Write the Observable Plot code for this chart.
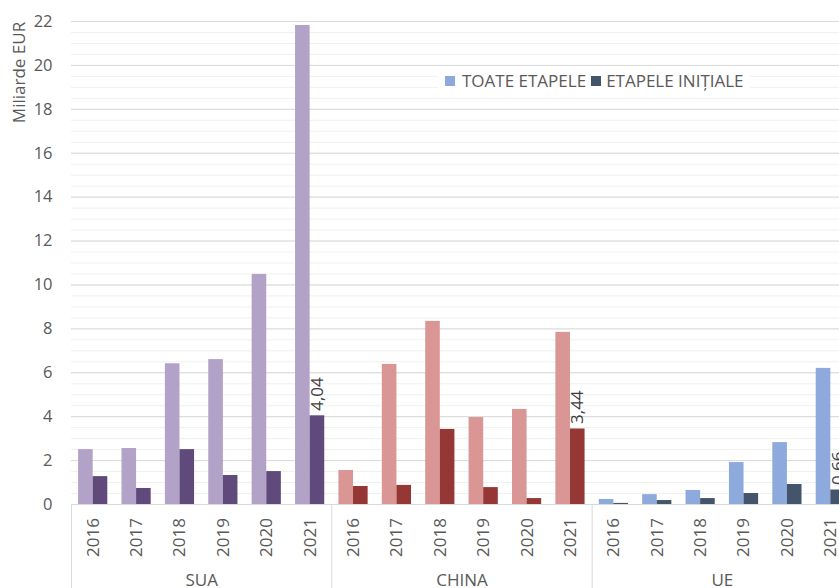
<!DOCTYPE html>
<html>
<head>
<meta charset="utf-8">
<script src="https://cdn.jsdelivr.net/npm/d3@7"></script>
<script src="https://cdn.jsdelivr.net/npm/@observablehq/plot@0.6"></script>
<style>
  body { margin: 0; background: #fff; }
  #wrap { position: relative; width: 839px; height: 588px; overflow: hidden; font-family: "Open Sans", sans-serif; }
  #legend { position: absolute; left: 438px; top: 67px; width: 312px; height: 27px; background: #fff;
            display: flex; align-items: center; font-size: 17px; color: #595959; white-space: nowrap; }
  #legend .sw { display: inline-block; width: 10px; height: 10px; margin: 0 7px 0 7px; }
  #legend .sw.first { margin-left: 7px; }
  #legend .sw.second { margin-left: 5px; margin-right: 5px; }
</style>
</head>
<body>
<div id="wrap"><div id="legend"></div></div>
<script>
const regions = ["SUA", "CHINA", "UE"];
const years = ["2016", "2017", "2018", "2019", "2020", "2021"];
const seriesNames = ["TOATE ETAPELE", "ETAPELE INIȚIALE"];

const totalSUA   = [2.5, 2.55, 6.41, 6.6, 10.48, 21.82];
const initialSUA = [1.27, 0.73, 2.5, 1.32, 1.5, 4.04];
const totalCHINA   = [1.55, 6.38, 8.34, 3.96, 4.33, 7.84];
const initialCHINA = [0.82, 0.87, 3.42, 0.77, 0.27, 3.44];
const totalUE   = [0.23, 0.45, 0.64, 1.91, 2.82, 6.2];
const initialUE = [0.05, 0.18, 0.27, 0.5, 0.91, 0.66];

const lightColors = {SUA: "#b3a2c7", CHINA: "#d99694", UE: "#8eaadc"};
const darkColors  = {SUA: "#604a7b", CHINA: "#953735", UE: "#44546a"};

const totals = {SUA: totalSUA, CHINA: totalCHINA, UE: totalUE};
const initials = {SUA: initialSUA, CHINA: initialCHINA, UE: initialUE};

const rows = [];
for (const r of regions) years.forEach((y, i) => rows.push({region: r, year: y, key: r + "|" + y, total: totals[r][i], initial: initials[r][i]}));
const keys = rows.map(d => d.key);
const labelRows = rows.filter(d => d.year === "2021");

const xRange = [71, 852];
const band = (xRange[1] - xRange[0]) / keys.length;
const barW = 14.6, outer = (band - 2 * barW) / 2;
const fmt = v => v.toFixed(2).replace(".", ",");

const font = "Open Sans, sans-serif";
const chart = Plot.plot({
  width: 839, height: 588,
  marginTop: 21, marginBottom: 84, marginLeft: 71, marginRight: 0,
  style: {fontFamily: font, fontSize: "16px", background: "#fff", overflow: "hidden"},
  x: {type: "band", domain: keys, range: xRange, padding: 0, round: false},
  y: {domain: [0, 22]},
  color: {type: "identity"},
  marks: [
    Plot.ruleY(d3.range(0, 22.01, 0.5), {stroke: "#f0f0f0", strokeWidth: 1}),
    Plot.ruleY(d3.range(0, 22.01, 2), {stroke: "#d9d9d9", strokeWidth: 1}),
    Plot.axisY({ticks: d3.range(0, 22.01, 2), tickSize: 0, tickPadding: 19, fontSize: 16.5, fill: "#595959", label: null}),
    Plot.text(["Miliarde EUR"], {frameAnchor: "top-left", dx: -52, dy: 51, rotate: -90, textAnchor: "middle", lineAnchor: "middle", fontSize: 17, fill: "#595959"}),
    Plot.barY(rows, {x: "key", y: "total", fill: d => lightColors[d.region], insetLeft: outer, insetRight: outer + barW}),
    Plot.barY(rows, {x: "key", y: "initial", fill: d => darkColors[d.region], insetLeft: outer + barW, insetRight: outer}),
    Plot.text(labelRows, {x: "key", y: "initial", text: d => fmt(d.initial), dx: barW / 2, dy: -5, rotate: -90, textAnchor: "start", lineAnchor: "middle", fontSize: 17, fill: "#404040"}),
    Plot.axisX({ticks: regions.map(r => r + "|2016"), tickSize: 84, dx: -band / 2, stroke: "#d9d9d9", text: null, label: null}),
    Plot.text(rows, {x: "key", frameAnchor: "bottom", dy: 33, text: "year", rotate: -90, textAnchor: "middle", lineAnchor: "middle", fontSize: 17, fill: "#595959"}),
    Plot.text(regions, {x: r => r + "|2018", dx: band / 2, frameAnchor: "bottom", dy: 76, text: d => d, textAnchor: "middle", lineAnchor: "middle", fontSize: 17, fill: "#595959"}),
    Plot.ruleY([0], {stroke: "#d9d9d9"})
  ]
});
const wrap = document.getElementById("wrap");
wrap.insertBefore(chart, wrap.firstChild);

const legend = document.getElementById("legend");
const legendColors = [lightColors.UE, darkColors.UE];
seriesNames.forEach((name, i) => {
  const sw = document.createElement("span");
  sw.className = "sw " + (i === 0 ? "first" : "second");
  sw.style.background = legendColors[i];
  legend.appendChild(sw);
  const t = document.createElement("span");
  t.textContent = name;
  legend.appendChild(t);
});
</script>
</body>
</html>
